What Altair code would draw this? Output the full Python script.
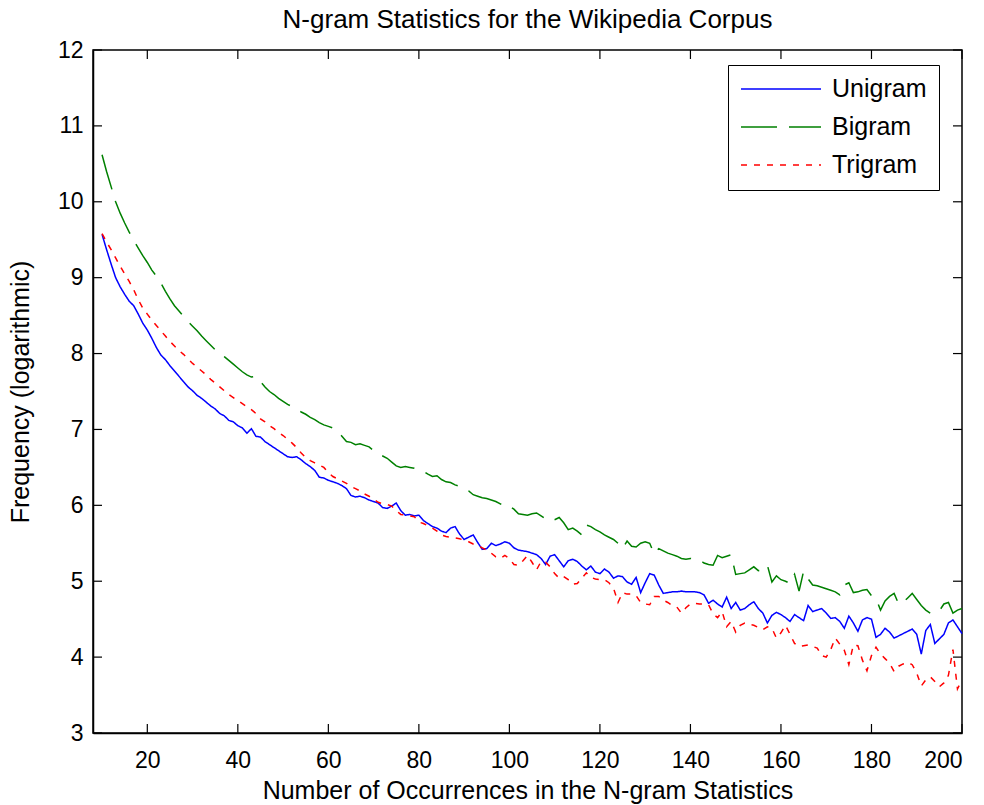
import altair as alt
import pandas as pd

x_start = 10
unigram = [
    9.57, 9.37, 9.18, 9.00, 8.88, 8.78, 8.69, 8.63, 8.52, 8.40,   # 10-19
    8.31, 8.20, 8.08, 7.98, 7.92, 7.84, 7.77, 7.70, 7.63, 7.56,   # 20-29
    7.51, 7.45, 7.41, 7.36, 7.31, 7.27, 7.21, 7.18, 7.12, 7.10,   # 30-39
    7.05, 7.02, 6.95, 7.01, 6.91, 6.90, 6.84, 6.80, 6.76, 6.72,   # 40-49
    6.68, 6.64, 6.63, 6.64, 6.60, 6.55, 6.51, 6.46, 6.37, 6.36,   # 50-59
    6.33, 6.31, 6.29, 6.26, 6.22, 6.13, 6.11, 6.12, 6.10, 6.07,   # 60-69
    6.05, 6.03, 5.97, 5.96, 5.99, 6.03, 5.93, 5.87, 5.88, 5.86,   # 70-79
    5.87, 5.80, 5.76, 5.72, 5.70, 5.66, 5.64, 5.70, 5.72, 5.62,   # 80-89
    5.55, 5.58, 5.61, 5.51, 5.42, 5.43, 5.50, 5.47, 5.49, 5.52,   # 90-99
    5.50, 5.44, 5.41, 5.40, 5.39, 5.37, 5.35, 5.30, 5.22, 5.33,   # 100-109
    5.35, 5.27, 5.19, 5.27, 5.29, 5.26, 5.20, 5.15, 5.20, 5.12,   # 110-119
    5.10, 5.16, 5.12, 5.04, 5.07, 5.06, 4.99, 4.96, 5.05, 4.85,   # 120-129
    4.98, 5.10, 5.08, 4.95, 4.84, 4.85, 4.86, 4.86, 4.87, 4.86,   # 130-139
    4.86, 4.86, 4.85, 4.82, 4.71, 4.75, 4.70, 4.66, 4.79, 4.64,   # 140-149
    4.72, 4.62, 4.64, 4.69, 4.73, 4.64, 4.58, 4.45, 4.55, 4.59,   # 150-159
    4.56, 4.52, 4.47, 4.56, 4.52, 4.48, 4.68, 4.60, 4.62, 4.64,   # 160-169
    4.58, 4.51, 4.52, 4.47, 4.38, 4.54, 4.45, 4.34, 4.49, 4.52,   # 170-179
    4.50, 4.26, 4.30, 4.38, 4.33, 4.25, 4.28, 4.31, 4.34, 4.37,   # 180-189
    4.30, 4.04, 4.35, 4.43, 4.18, 4.24, 4.30, 4.45, 4.49, 4.40,   # 190-199
    4.31,                                                         # 200
]
bigram = [
    10.62, 10.40, 10.20, 10.00, 9.85, 9.72, 9.60, 9.49, 9.39, 9.29,
    9.20, 9.10, 9.02, 8.93, 8.82, 8.72, 8.63, 8.56, 8.49, 8.42,
    8.36, 8.30, 8.23, 8.17, 8.11, 8.05, 8.01, 7.96, 7.91, 7.86,
    7.81, 7.76, 7.72, 7.69, 7.70, 7.63, 7.56, 7.50, 7.46, 7.41,
    7.37, 7.33, 7.30, 7.27, 7.23, 7.20, 7.16, 7.13, 7.09, 7.06,
    7.04, 7.02, 6.99, 6.91, 6.84, 6.83, 6.80, 6.81, 6.79, 6.77,
    6.72, 6.68, 6.65, 6.62, 6.57, 6.52, 6.50, 6.51, 6.50, 6.49,
    6.47, 6.45, 6.41, 6.38, 6.39, 6.34, 6.31, 6.30, 6.27, 6.25,
    6.21, 6.19, 6.14, 6.12, 6.10, 6.09, 6.07, 6.05, 6.02, 5.98,
    5.99, 5.95, 5.89, 5.88, 5.87, 5.89, 5.90, 5.86, 5.82, 5.79,
    5.81, 5.84, 5.77, 5.68, 5.70, 5.66, 5.61, 5.74, 5.72, 5.68,
    5.65, 5.61, 5.58, 5.55, 5.50, 5.43, 5.53, 5.46, 5.45, 5.50,
    5.52, 5.50, 5.36, 5.43, 5.40, 5.37, 5.35, 5.33, 5.30, 5.29,
    5.30, 5.29, 5.28, 5.24, 5.22, 5.21, 5.34, 5.31, 5.33, 5.35,
    5.09, 5.10, 5.11, 5.15, 5.19, 5.14, 5.15, 5.21, 4.99, 5.07,
    5.02, 5.00, 4.97, 5.09, 4.87, 5.13, 5.03, 4.95, 4.94, 4.92,
    4.90, 4.88, 4.86, 4.82, 4.95, 4.98, 4.85, 4.86, 4.88, 4.89,
    4.81, 4.77, 4.62, 4.74, 4.80, 4.84, 4.70, 4.72, 4.78, 4.84,
    4.76, 4.68, 4.62, 4.58, 4.60, 4.61, 4.70, 4.72, 4.58, 4.62,
    4.64,
]
trigram = [
    9.58, 9.47, 9.37, 9.26, 9.15, 9.05, 8.95, 8.84, 8.71, 8.60,
    8.52, 8.44, 8.37, 8.30, 8.23, 8.16, 8.10, 8.04, 7.99, 7.93,
    7.87, 7.82, 7.77, 7.72, 7.66, 7.61, 7.56, 7.51, 7.46, 7.42,
    7.38, 7.34, 7.30, 7.26, 7.21, 7.14, 7.10, 7.05, 7.01, 6.96,
    6.92, 6.87, 6.82, 6.76, 6.69, 6.63, 6.59, 6.56, 6.53, 6.50,
    6.43, 6.38, 6.35, 6.32, 6.29, 6.25, 6.22, 6.19, 6.15, 6.12,
    6.08, 6.04, 6.02, 6.01, 5.99, 5.93, 5.88, 5.87, 5.86, 5.85,
    5.78, 5.76, 5.73, 5.70, 5.66, 5.61, 5.59, 5.58, 5.57, 5.56,
    5.54, 5.52, 5.49, 5.47, 5.44, 5.41, 5.37, 5.32, 5.30, 5.34,
    5.30, 5.22, 5.21, 5.27, 5.34, 5.25, 5.15, 5.26, 5.25, 5.19,
    5.10, 5.04, 5.06, 5.02, 4.96, 4.97, 5.04, 5.11, 5.05, 5.03,
    5.02, 5.02, 4.98, 4.91, 4.72, 4.85, 4.83, 4.83, 4.81, 4.72,
    4.70, 4.69, 4.80, 4.80, 4.75, 4.72, 4.68, 4.66, 4.58, 4.65,
    4.70, 4.71, 4.70, 4.70, 4.69, 4.57, 4.52, 4.60, 4.40, 4.47,
    4.33, 4.42, 4.45, 4.43, 4.42, 4.39, 4.36, 4.40, 4.38, 4.25,
    4.32, 4.42, 4.30, 4.18, 4.14, 4.15, 4.16, 4.14, 4.12, 4.02,
    4.00, 4.10, 4.25, 4.17, 4.09, 3.90, 4.16, 4.15, 3.96, 3.82,
    4.02, 4.13, 4.04, 3.98, 3.92, 3.81, 3.88, 3.91, 3.93, 3.90,
    3.79, 3.62, 3.70, 3.74, 3.68, 3.61, 3.66, 3.76, 4.10, 3.58,
    3.70,
]
series_names = ["Unigram", "Bigram", "Trigram"]
series_colors = ["#0000FF", "#008000", "#FF0000"]
series_dashes = [[1, 0], [36, 12], [6, 7]]
x_ticks = [20, 40, 60, 80, 100, 120, 140, 160, 180, 200]
y_ticks = [3, 4, 5, 6, 7, 8, 9, 10, 11, 12]

rows = []
for name, vals in zip(series_names, [unigram, bigram, trigram]):
    for i, v in enumerate(vals):
        rows.append({"x": x_start + i, "value": v, "series": name})
df = pd.DataFrame(rows)
xt = pd.DataFrame({"t": x_ticks})
yt = pd.DataFrame({"t": y_ticks})

W, H = 869, 683
FONT = "Liberation Sans"
xscale = alt.Scale(domain=[8, 200], nice=False, zero=False)
yscale = alt.Scale(domain=[3, 12], nice=False, zero=False)

legend = alt.Legend(orient="none", legendX=635, legendY=15,
                    title=None, strokeColor="black", fillColor="white",
                    padding=12, symbolType="stroke", symbolSize=6400,
                    symbolStrokeWidth=1.5, labelFontSize=25,
                    labelFont=FONT, labelColor="black",
                    labelOffset=10, clipHeight=24, rowPadding=13)

lines = alt.Chart(df).mark_line(strokeWidth=1.5).encode(
    x=alt.X("x:Q", scale=xscale,
            axis=alt.Axis(values=x_ticks, ticks=False, labelPadding=16,
                          format="d",
                          title="Number of Occurrences in the N-gram Statistics",
                          titlePadding=6)),
    y=alt.Y("value:Q", scale=yscale,
            axis=alt.Axis(values=y_ticks, ticks=False, labelPadding=10,
                          format="d",
                          title="Frequency (logarithmic)", titlePadding=24)),
    color=alt.Color("series:N",
                    scale=alt.Scale(domain=series_names, range=series_colors),
                    legend=legend),
    strokeDash=alt.StrokeDash("series:N",
                              scale=alt.Scale(domain=series_names, range=series_dashes),
                              legend=legend),
)

tl = 9
xb = alt.Chart(xt).mark_rule(color="black", strokeWidth=1.2).encode(
    x=alt.X("t:Q", scale=xscale), y=alt.value(H), y2=alt.value(H - tl))
xtop = alt.Chart(xt).mark_rule(color="black", strokeWidth=1.2).encode(
    x=alt.X("t:Q", scale=xscale), y=alt.value(0), y2=alt.value(tl))
yl = alt.Chart(yt).mark_rule(color="black", strokeWidth=1.2).encode(
    y=alt.Y("t:Q", scale=yscale), x=alt.value(0), x2=alt.value(tl))
yr = alt.Chart(yt).mark_rule(color="black", strokeWidth=1.2).encode(
    y=alt.Y("t:Q", scale=yscale), x=alt.value(W), x2=alt.value(W - tl))

chart = alt.layer(lines, xb, xtop, yl, yr).properties(
    width=W, height=H,
    background="white",
    title=alt.TitleParams("N-gram Statistics for the Wikipedia Corpus",
                          fontSize=26, font=FONT, fontWeight="normal",
                          color="black", offset=6),
    autosize=alt.AutoSizeParams(type="none"),
    padding={"left": 93, "top": 50, "right": 22, "bottom": 72},
).configure_view(stroke="black", strokeWidth=1.5).configure_axis(
    domainColor="black", domainWidth=1.5, grid=False,
    labelFont=FONT, labelFontSize=23, labelColor="black",
    titleFont=FONT, titleFontSize=25, titleColor="black", titleFontWeight="normal",
)

chart.save("out.html", embed_options={"renderer": "svg", "actions": False})
